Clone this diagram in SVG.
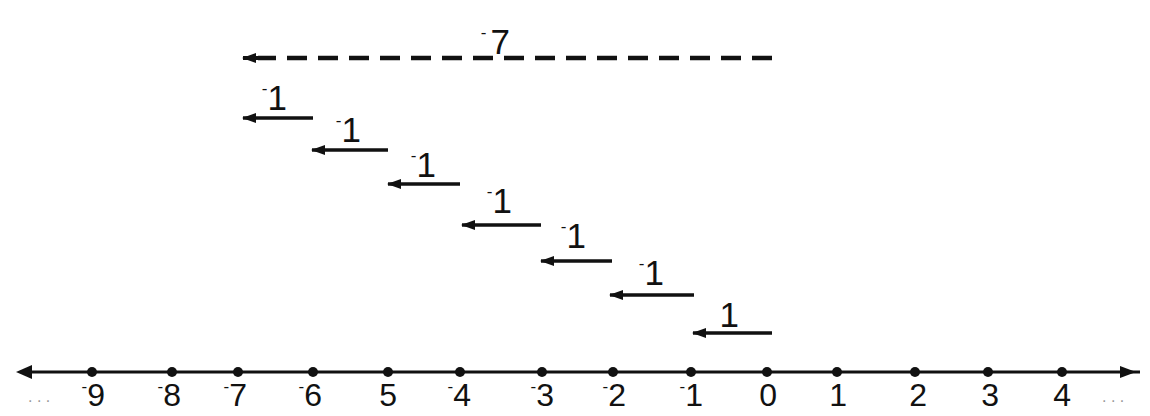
<svg xmlns="http://www.w3.org/2000/svg" width="1150" height="416" viewBox="0 0 1150 416">
<style>
.lbl{font-family:"Liberation Sans","DejaVu Sans",sans-serif;fill:#111;}
.nl{font-size:32px;text-anchor:end;}
.st{font-size:35px;text-anchor:end;}
.sup{font-size:17px;}
.arr{stroke:#111;stroke-width:3.5;fill:none;marker-end:url(#ah);}
.dash{stroke:#111;stroke-width:4.5;fill:none;stroke-dasharray:20 11;}
.dot{fill:#111;}
</style>
<defs>
<marker id="ah" markerUnits="userSpaceOnUse" markerWidth="14" markerHeight="12" refX="13" refY="6" orient="auto">
<path d="M0,1 L14,6 L0,11 z" fill="#111"/>
</marker>
</defs>
<rect width="1150" height="416" fill="#fff"/>

<g id="number-line">
<line x1="26" y1="372" x2="1140" y2="372" stroke="#111" stroke-width="3"/>
<path d="M16,372 L32,365 L32,379 z" fill="#111"/>
<path d="M1136,372 L1120,366 L1120,378 z" fill="#111"/>
<g class="dot">
<circle cx="92" cy="372" r="5"/><circle cx="172" cy="372" r="5"/><circle cx="238" cy="372" r="5"/>
<circle cx="313" cy="372" r="5"/><circle cx="388" cy="372" r="5"/><circle cx="460" cy="372" r="5"/>
<circle cx="542" cy="372" r="5"/><circle cx="613" cy="372" r="5"/><circle cx="691" cy="372" r="5"/>
<circle cx="767" cy="372" r="5"/><circle cx="837" cy="372" r="5"/><circle cx="915" cy="372" r="5"/>
<circle cx="988" cy="372" r="5"/><circle cx="1062" cy="372" r="5"/>
</g>
</g>

<g id="axis-labels" class="lbl">
<text class="nl" x="105" y="406"><tspan class="sup" dy="-14">-</tspan><tspan dy="14">9</tspan></text>
<text class="nl" x="181" y="406"><tspan class="sup" dy="-14">-</tspan><tspan dy="14">8</tspan></text>
<text class="nl" x="247" y="406"><tspan class="sup" dy="-14">-</tspan><tspan dy="14">7</tspan></text>
<text class="nl" x="322" y="406"><tspan class="sup" dy="-14">-</tspan><tspan dy="14">6</tspan></text>
<text class="nl" x="397" y="406">5</text>
<text class="nl" x="471" y="406"><tspan class="sup" dy="-14">-</tspan><tspan dy="14">4</tspan></text>
<text class="nl" x="554" y="406"><tspan class="sup" dy="-14">-</tspan><tspan dy="14">3</tspan></text>
<text class="nl" x="626" y="406"><tspan class="sup" dy="-14">-</tspan><tspan dy="14">2</tspan></text>
<text class="nl" x="703" y="406"><tspan class="sup" dy="-14">-</tspan><tspan dy="14">1</tspan></text>
<text class="nl" x="777" y="406">0</text>
<text class="nl" x="847" y="406">1</text>
<text class="nl" x="927" y="406">2</text>
<text class="nl" x="999" y="406">3</text>
<text class="nl" x="1071" y="406">4</text>
<text x="28" y="402" font-size="16" fill="#999" font-family="Liberation Sans,sans-serif">. . .</text>
<text x="1102" y="402" font-size="16" fill="#999" font-family="Liberation Sans,sans-serif">. . .</text>
</g>

<g id="connectors">
<line class="dash" x1="772" y1="58" x2="258" y2="58"/>
<line x1="260" y1="58" x2="243" y2="58" stroke="#111" stroke-width="4" marker-end="url(#ah)"/>
<line class="arr" x1="313" y1="118" x2="243" y2="118"/>
<line class="arr" x1="388" y1="150" x2="312" y2="150"/>
<line class="arr" x1="460" y1="184" x2="388" y2="184"/>
<line class="arr" x1="541" y1="225" x2="462" y2="225"/>
<line class="arr" x1="612" y1="261" x2="541" y2="261"/>
<line class="arr" x1="694" y1="295" x2="610" y2="295"/>
<line class="arr" x1="772" y1="333" x2="693" y2="333"/>
</g>

<g id="step-labels" class="lbl">
<text class="st" x="510" y="54"><tspan class="sup" dy="-16">-</tspan><tspan dx="4" dy="16">7</tspan></text>
<text class="st" x="287" y="110"><tspan class="sup" dy="-16">-</tspan><tspan dy="16">1</tspan></text>
<text class="st" x="361" y="142"><tspan class="sup" dy="-16">-</tspan><tspan dy="16">1</tspan></text>
<text class="st" x="436" y="177"><tspan class="sup" dy="-16">-</tspan><tspan dy="16">1</tspan></text>
<text class="st" x="512" y="213"><tspan class="sup" dy="-16">-</tspan><tspan dy="16">1</tspan></text>
<text class="st" x="586" y="248"><tspan class="sup" dy="-16">-</tspan><tspan dy="16">1</tspan></text>
<text class="st" x="664" y="285"><tspan class="sup" dy="-16">-</tspan><tspan dy="16">1</tspan></text>
<text class="st" x="739" y="327">1</text>
</g>
</svg>
